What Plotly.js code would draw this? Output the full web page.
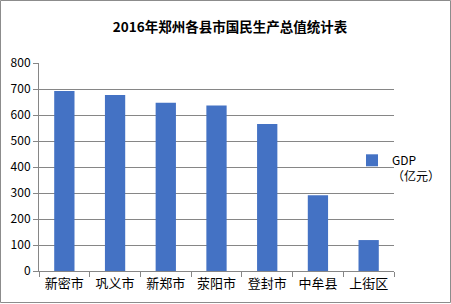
<!DOCTYPE html>
<html>
<head>
<meta charset="utf-8">
<script src="https://cdn.plot.ly/plotly-3.0.1.min.js"></script>
<style>
html,body{margin:0;padding:0;background:#fff;}
#chart{width:451px;height:304px;}
</style>
</head>
<body>
<div id="chart"></div>
<script>
var categories = ['新密市','巩义市','新郑市','荥阳市','登封市','中牟县','上街区'];
var gdpValues = [692, 677, 647, 637, 565, 291, 119];
var seriesName = 'GDP<br>（亿元）';
var yTickValues = [0,100,200,300,400,500,600,700,800];
var chartTitle = '<b>2016年郑州各县市国民生产总值统计表</b>';

var W = 451, H = 304;
var mL = 39, mR = 57, mT = 63, mB = 33;
var pw = W - mL - mR, ph = H - mT - mB;
var font = '"Noto Sans CJK SC", "Microsoft YaHei", sans-serif';
var gridCol = '#868686';

var trace = {
  type: 'bar',
  x: categories,
  y: gdpValues,
  name: seriesName,
  marker: {color: '#4472C4'},
  showlegend: true,
  hoverinfo: 'x+y'
};

var layout = {
  width: W, height: H,
  margin: {l: mL, r: mR, t: mT, b: mB, pad: 0, autoexpand: false},
  paper_bgcolor: '#fff', plot_bgcolor: '#fff',
  font: {family: font, size: 12, color: '#000'},
  title: {text: chartTitle, x: 230/W, xanchor: 'center', y: 1 - 27/H, yanchor: 'middle',
          font: {family: font, size: 13.5, color: '#000'}},
  bargap: 0.6,
  showlegend: true,
  legend: {x: (352 - mL)/pw, xanchor: 'left', y: 1 - (146 - mT)/ph, yanchor: 'top',
           valign: 'top',
           font: {family: font, size: 12, color: '#000'}, bgcolor: 'rgba(0,0,0,0)', borderwidth: 0},
  xaxis: {
    type: 'category',
    showline: true, linecolor: gridCol, linewidth: 1,
    ticks: 'outside', ticklen: 5, tickcolor: gridCol, tickson: 'boundaries',
    showgrid: false, zeroline: false,
    tickfont: {family: font, size: 13, color: '#000'}
  },
  yaxis: {
    range: [0, 800],
    tickvals: yTickValues,
    ticktext: yTickValues.map(String),
    showline: true, linecolor: gridCol, linewidth: 1,
    ticks: 'outside', ticklen: 5, tickcolor: gridCol,
    showgrid: true, gridcolor: gridCol, gridwidth: 1,
    zeroline: false,
    tickfont: {family: font, size: 12, color: '#000'}
  },
  shapes: [{
    type: 'rect', xref: 'paper', yref: 'paper', layer: 'above',
    x0: (0.5 - mL)/pw, x1: (450.5 - mL)/pw,
    y0: (mT + ph - 302.5)/ph, y1: (mT + ph - 0.5)/ph,
    line: {color: '#8c8c8c', width: 1}, fillcolor: 'rgba(0,0,0,0)'
  }]
};

Plotly.newPlot('chart', [trace], layout, {displayModeBar: false, staticPlot: true});
</script>
</body>
</html>
